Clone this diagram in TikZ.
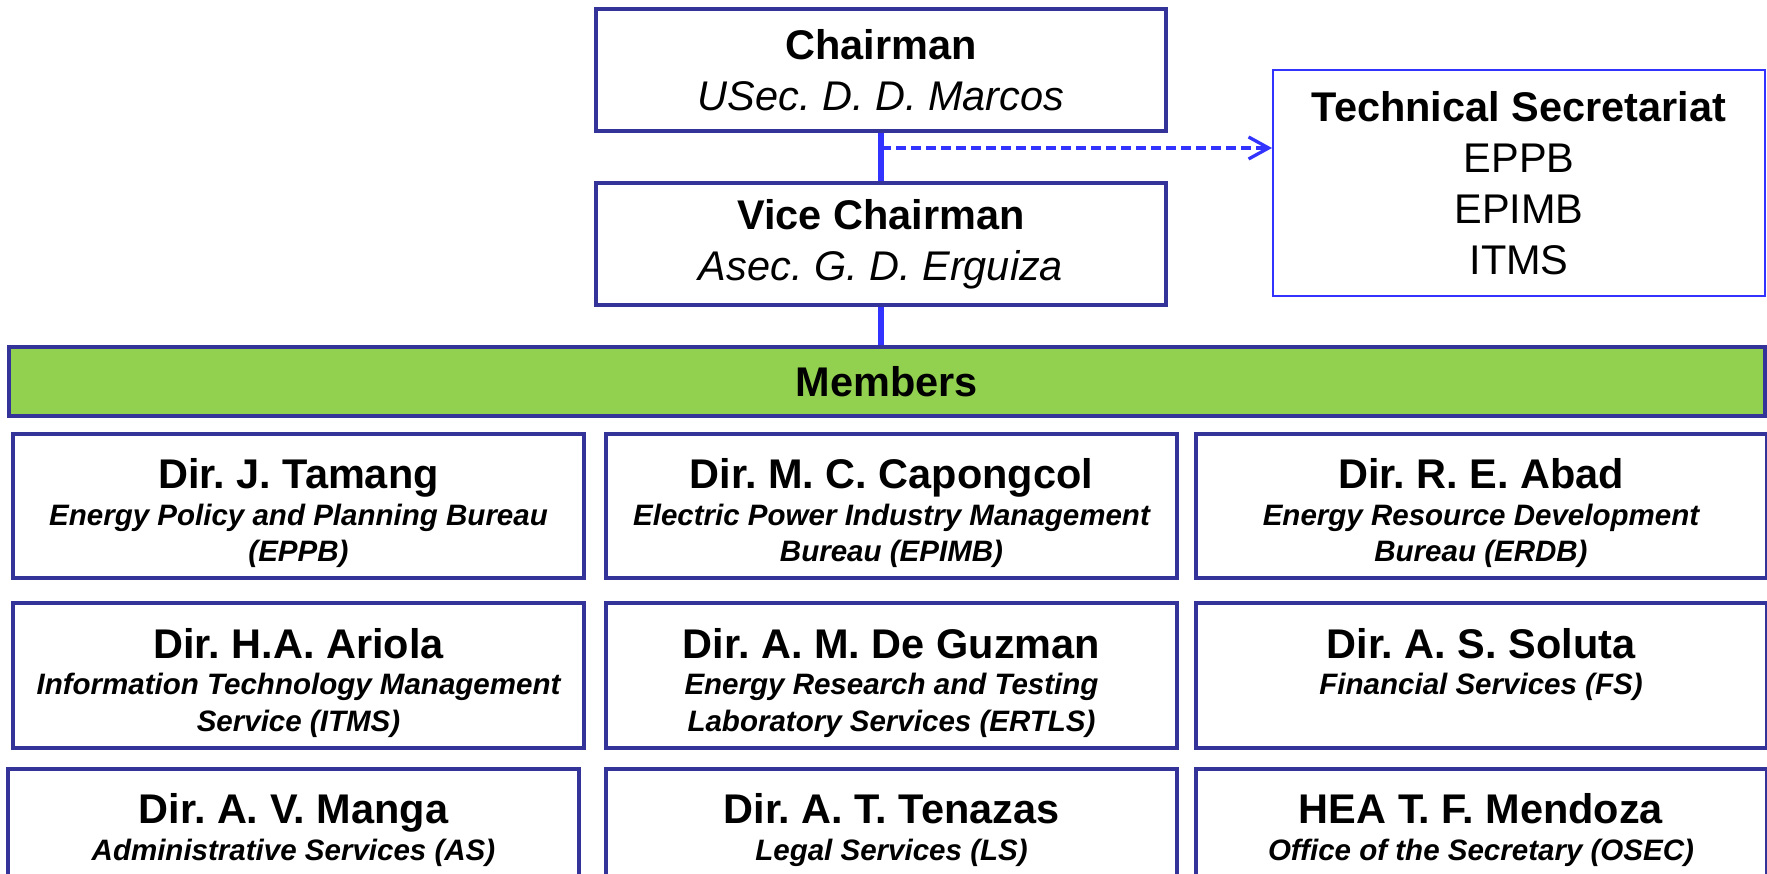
\documentclass[tikz,border=0pt]{standalone}
\usepackage{fontspec}
\setmainfont{Liberation Sans}
\usetikzlibrary{arrows.meta}

\definecolor{navy}{HTML}{333399}
\definecolor{linkblue}{HTML}{3333FF}
\definecolor{memgreen}{HTML}{92D050}

\newcommand{\bigtext}{\fontsize{11.8}{14.5}\selectfont}
\newcommand{\titletext}{\fontsize{11.8}{10.4}\selectfont\bfseries}
\newcommand{\subtext}{\fontsize{8.4}{10.4}\selectfont\bfseries\itshape}

\begin{document}
\frenchspacing
\begin{tikzpicture}[
            x = 0.1mm, y = -0.1mm, % one unit per pixel, y going down
            > = {Straight Barb[length=2mm, width=2.2mm]}, % arrow head style
            semithick % line style
        ]

        \tikzstyle{head}=[
            draw = navy,
            line width = 0.45mm,
            fill = white,
            minimum width = 57mm,
            minimum height = 12.2mm,
            align = center,
            font = \bigtext
        ]
        \tikzstyle{secretariat}=[
            draw = linkblue,
            line width = 0.2mm,
            minimum width = 49.2mm,
            minimum height = 22.6mm,
            align = center,
            font = \bigtext
        ]
        \tikzstyle{bar}=[
            draw = navy,
            line width = 0.4mm,
            fill = memgreen,
            minimum width = 175.6mm,
            minimum height = 6.9mm,
            font = \bigtext\bfseries
        ]
        \tikzstyle{member}=[
            draw = navy,
            line width = 0.4mm,
            minimum width = 57.1mm,
            minimum height = 14.4mm,
            inner xsep = 0pt,
            inner ysep = 7pt,
            execute at begin node = {\begin{minipage}[c][27pt][t]{155pt}\centering\titletext},
            execute at end node = {\end{minipage}}
        ]
        \tikzstyle{link}=[draw = linkblue, line width = 0.55mm]

        \useasboundingbox (0,0) rectangle (1767,874);

        \node[head] (chair) at (881,70) {\textbf{Chairman}\\ \textit{USec. D. D. Marcos}};
        \node[head] (vice) at (881,244) {\textbf{Vice Chairman}\\ \textit{Asec. G. D. Erguiza}};
        \node[secretariat] (tech) at (1519,183) {\textbf{Technical Secretariat}\\ EPPB\\ EPIMB\\ ITMS};
        \node[bar] (members) at (887,382) {Members};

        % directors
        \node[member] (eppb) at (298.5,506) {Dir. J. Tamang\\ \subtext Energy Policy and Planning Bureau\\ (EPPB)};
        \node[member] (epimb) at (891.5,506) {Dir. M. C. Capongcol\\ \subtext Electric Power Industry Management\\ Bureau (EPIMB)};
        \node[member] (erdb) at (1481,506) {Dir. R. E. Abad\\ \subtext Energy Resource Development\\ Bureau (ERDB)};
        \node[member] (itms) at (298.5,675.5) {Dir. H.A. Ariola\\ \subtext Information Technology Management\\ Service (ITMS)};
        \node[member] (ertls) at (891.5,675.5) {Dir. A. M. De Guzman\\ \subtext Energy Research and Testing\\ Laboratory Services (ERTLS)};
        \node[member] (fs) at (1481,675.5) {Dir. A. S. Soluta\\ \subtext Financial Services (FS)};
        \node[member] (as) at (293.5,841) {Dir. A. V. Manga\\ \subtext Administrative Services (AS)};
        \node[member] (ls) at (891.5,841) {Dir. A. T. Tenazas\\ \subtext Legal Services (LS)};
        \node[member] (osec) at (1481,841) {HEA T. F. Mendoza\\ \subtext Office of the Secretary (OSEC)};

        \path[link] (chair) -- (vice);
        \path[link] (vice.south) -- (vice.south |- members.north);

        \coordinate (tap) at (881,148);
        \path[link, line width = 0.33mm, dash pattern = on 1mm off 0.5mm, ->] (tap) -- (tap -| tech.west);

    \end{tikzpicture}
\end{document}
